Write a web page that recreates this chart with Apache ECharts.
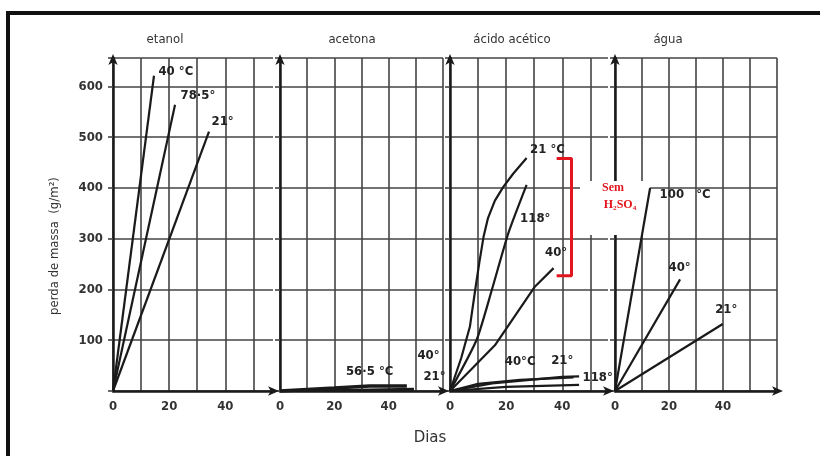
<!DOCTYPE html>
<html>
<head>
<meta charset="utf-8">
<script src="https://cdn.jsdelivr.net/npm/echarts@6/dist/echarts.min.js"></script>
<style>html,body{margin:0;padding:0;background:#fff;}#c{width:820px;height:456px;}</style>
</head>
<body>
<div id="c"></div>
<script>
// Panel titles and axis labels
const panelTitles = ['etanol', 'acetona', 'ácido acético', 'água'];
const yTicks = [100, 200, 300, 400, 500, 600];
const xTicks = [0, 20, 40];

// Series: [dias, perda de massa (g/m²)]
// etanol
const etanol_40 = [[0, 0], [14.6, 621]];
const etanol_785 = [[0, 0], [22.1, 564]];
const etanol_21 = [[0, 0], [34.2, 511]];
// acetona
const acetona_565 = [[0, 0], [10, 3], [20, 6], [33, 10], [46.7, 10]];
const acetona_40 = [[0, 0], [49.3, 4]];
const acetona_21 = [[0, 0], [49.3, 2]];
// ácido acético (sem H2SO4)
const acetico_21 = [[0, 0], [4, 65], [7.1, 127], [9, 200], [10.5, 255], [12, 305], [13.5, 340], [16, 375], [19, 402], [22.5, 428], [27.3, 459]];
const acetico_118 = [[0, 0], [9.5, 101], [14.9, 199], [20.8, 311], [27.3, 406]];
const acetico_40 = [[0, 0], [16, 90], [30.3, 206], [36.9, 242]];
// ácido acético (com H2SO4)
const acetico_40b = [[0, 0], [10, 14], [25, 22], [44, 27]];
const acetico_21b = [[0, 0], [15, 15], [40, 28], [46, 29]];
const acetico_118b = [[0, 0], [20, 8], [46, 12]];
// água
const agua_100 = [[0, 0], [13, 400]];
const agua_40 = [[0, 0], [24.1, 220]];
const agua_21 = [[0, 0], [39.9, 132]];
// bracket "Sem H2SO4" on ácido acético panel
const bracket = [[38, 458], [43.3, 458], [43.3, 227], [38, 227]];

const FONT = '"DejaVu Sans Condensed", "DejaVu Sans", sans-serif';
const INK = '#1a1a1a';

const grids = [
  {left: 113, top: 58, width: 160, height: 333},
  {left: 280, top: 58, width: 163, height: 333},
  {left: 450, top: 58, width: 158, height: 333},
  {left: 615, top: 58, width: 162, height: 333}
];
const xMax = [57, 60, 56.3, 60];
const showRight = [false, true, false, true];

const xAxes = grids.map((g, i) => ({
  type: 'value', gridIndex: i, min: 0, max: xMax[i], interval: 10,
  axisLine: {show: true, onZero: false, symbol: ['none', 'arrow'], symbolSize: [7, 11], symbolOffset: [0, 6],
    lineStyle: {color: INK, width: 2.5}},
  axisTick: {show: false},
  axisLabel: {
    margin: 9, fontSize: 13, color: '#333', fontFamily: FONT, fontWeight: 'bold',
    formatter: v => xTicks.includes(v) ? String(v) : ''
  },
  splitLine: {show: true, showMaxLine: showRight[i], lineStyle: {color: '#444', width: 1.6}}
}));

const yAxes = grids.map((g, i) => ({
  type: 'value', gridIndex: i, min: 0, max: 656, interval: 100,
  axisLine: {show: true, onZero: false, symbol: ['none', 'arrow'], symbolSize: [7, 11], symbolOffset: [0, 4],
    lineStyle: {color: INK, width: 2.5}},
  axisTick: {show: true, length: 5, inside: false, lineStyle: {color: '#444', width: 1.6}},
  axisLabel: {
    show: i === 0, margin: 10, fontSize: 13, color: '#333', fontFamily: FONT, fontWeight: 'bold',
    formatter: v => yTicks.includes(v) ? String(v) : ''
  },
  splitLine: {show: true, lineStyle: {color: '#444', width: 1.6}}
}));

function mk(panel, pts, text, idx, pos, offset, width, smooth) {
  return {
    type: 'line', xAxisIndex: panel, yAxisIndex: panel,
    symbol: 'circle', symbolSize: 1, showSymbol: true,
    itemStyle: {color: 'rgba(0,0,0,0)'},
    lineStyle: {color: INK, width: width || 2.2},
    smooth: smooth || false, z: 5,
    data: pts.map((p, k) => k === idx ? {
      value: p,
      label: {show: true, formatter: text, position: pos, offset: offset, distance: 5,
        color: '#222', fontSize: 13, fontFamily: FONT, fontWeight: 'bold'}
    } : {value: p, label: {show: false}})
  };
}

const series = [
  mk(0, etanol_40, '40 °C', 1, 'right', [-1, -4]),
  mk(0, etanol_785, '78·5°', 1, 'right', [0, -9]),
  mk(0, etanol_21, '21°', 1, 'right', [-3, -10]),
  mk(1, acetona_565, '56·5 °C', 3, 'top', [0, -2], 3.5),
  mk(1, acetona_40, '40°', 1, 'right', [-2, -33]),
  mk(1, acetona_21, '21°', 1, 'right', [4, -13]),
  mk(2, acetico_21, '21 °C', 10, 'right', [-2, -8]),
  mk(2, acetico_118, '118°', 4, 'right', [-12, 34], 2.2, 0.2),
  mk(2, acetico_40, '40°', 3, 'right', [-14, -16]),
  mk(2, acetico_40b, '40°C', 2, 'top', [0, -6]),
  mk(2, acetico_21b, '21°', 2, 'top', [0, -4]),
  mk(2, acetico_118b, '118°', 2, 'right', [-2, -7]),
  mk(3, agua_100, '100   °C', 1, 'right', [4, 7]),
  mk(3, agua_40, '40°', 1, 'right', [-17, -12]),
  mk(3, agua_21, '21°', 1, 'right', [-13, -14]),
  {
    type: 'line', xAxisIndex: 2, yAxisIndex: 2, data: bracket, showSymbol: false, symbol: 'none',
    lineStyle: {color: '#e3161f', width: 3}, z: 20
  }
];

const graphic = [
  {type: 'rect', z: -10, silent: true, shape: {x: 8, y: 13, width: 840, height: 480},
    style: {fill: 'none', stroke: '#111', lineWidth: 4}},
  ...panelTitles.map((t, i) => ({
    type: 'text', z: 10, x: [165, 352, 512, 668][i], y: 40,
    style: {text: t, fill: '#333', fontSize: 13, fontFamily: FONT, align: 'center', verticalAlign: 'middle'}
  })),
  {type: 'text', z: 10, x: 430, y: 438,
    style: {text: 'Dias', fill: '#333', fontSize: 15, fontFamily: '"DejaVu Sans", sans-serif', align: 'center', verticalAlign: 'middle'}},
  {type: 'text', z: 10, x: 55, y: 246, rotation: Math.PI / 2,
    style: {text: 'perda de massa  (g/m²)', fill: '#333', fontSize: 13, fontFamily: FONT, align: 'center', verticalAlign: 'middle'}},
  {type: 'rect', z: 3, shape: {x: 580, y: 181, width: 70, height: 54}, style: {fill: '#fff'}},
  {type: 'text', z: 31, x: 613, y: 188,
    style: {text: 'Sem', fill: '#e3161f', fontSize: 12, fontWeight: 'bold', fontFamily: '"Liberation Serif", "DejaVu Serif", serif', align: 'center', verticalAlign: 'middle'}},
  {type: 'text', z: 31, x: 620, y: 205,
    style: {text: 'H₂SO₄', fill: '#e3161f', fontSize: 12, fontWeight: 'bold', fontFamily: '"Liberation Serif", "DejaVu Serif", serif', align: 'center', verticalAlign: 'middle'}}
];

const chart = echarts.init(document.getElementById('c'), null, {renderer: 'canvas'});
chart.setOption({
  animation: false,
  backgroundColor: '#fff',
  grid: grids,
  xAxis: xAxes,
  yAxis: yAxes,
  series: series,
  graphic: graphic
});
</script>
</body>
</html>
